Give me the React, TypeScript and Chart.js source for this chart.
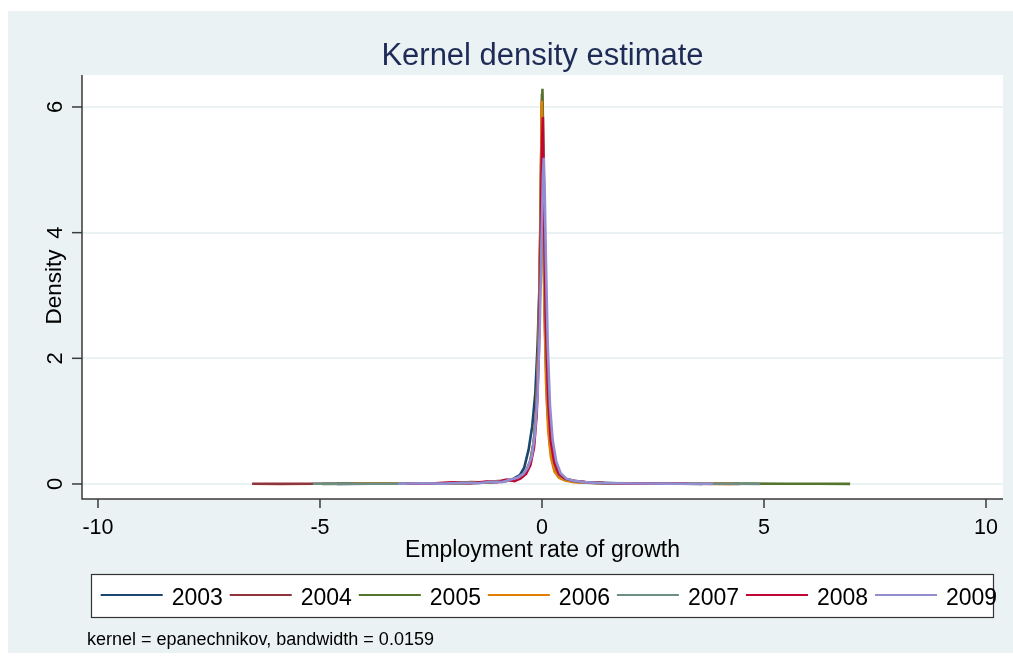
import React, { useEffect, useRef } from "react";
import { Chart, registerables } from "chart.js";

Chart.register(...registerables);

const years = ["2003", "2004", "2005", "2006", "2007", "2008", "2009"];
const colors = ["#1A476F", "#90353B", "#55752F", "#E37E00", "#6E8E84", "#C10534", "#938DD2"];

const x03 = [-4.62, -3.8, -3.1, -2.4, -1.9, -1.5, -1.2, -1.0, -0.8, -0.65, -0.5, -0.4, -0.3, -0.22, -0.15, -0.1, -0.05, -0.02, 0, 0.02, 0.05, 0.1, 0.15, 0.22, 0.3, 0.4, 0.55, 0.75, 1.0, 1.4, 1.9, 2.5, 3.1, 3.62];
const y03 = [0.002, 0.004, 0.006, 0.009, 0.012, 0.018, 0.026, 0.035, 0.055, 0.08, 0.14, 0.26, 0.55, 0.92, 1.45, 2.2, 3.3, 4.3, 4.95, 4.4, 3.2, 1.85, 1.05, 0.52, 0.26, 0.13, 0.07, 0.038, 0.022, 0.013, 0.008, 0.005, 0.003, 0.002];

const x04 = [-6.53, -5.9, -5.2, -4.4, -3.6, -2.8, -2.1, -1.6, -1.25, -1.0, -0.8, -0.62, -0.48, -0.36, -0.26, -0.18, -0.12, -0.07, -0.03, 0, 0.03, 0.07, 0.12, 0.18, 0.26, 0.36, 0.5, 0.7, 1.0, 1.4, 2.0, 2.8, 3.6, 4.45];
const y04 = [0.003, 0.002, 0.004, 0.003, 0.005, 0.008, 0.012, 0.03, 0.022, 0.045, 0.05, 0.07, 0.12, 0.2, 0.38, 0.7, 1.3, 2.5, 4.5, 6.21, 4.4, 2.4, 1.2, 0.62, 0.3, 0.14, 0.08, 0.045, 0.025, 0.014, 0.008, 0.005, 0.003, 0.002];

const x05 = [-4.95, -4.2, -3.4, -2.7, -2.1, -1.6, -1.25, -1.0, -0.8, -0.62, -0.48, -0.36, -0.26, -0.18, -0.12, -0.07, -0.03, -0.01, 0.01, 0.04, 0.08, 0.13, 0.19, 0.27, 0.37, 0.5, 0.7, 1.0, 1.4, 2.0, 2.8, 3.7, 4.6, 5.5, 6.2, 6.94];
const y05 = [0.002, 0.004, 0.006, 0.008, 0.013, 0.02, 0.028, 0.035, 0.05, 0.075, 0.11, 0.19, 0.35, 0.66, 1.25, 2.4, 4.3, 5.7, 6.29, 4.9, 2.9, 1.5, 0.75, 0.35, 0.16, 0.085, 0.045, 0.024, 0.014, 0.009, 0.005, 0.004, 0.005, 0.003, 0.003, 0.002];

const x06 = [-4.25, -3.5, -2.8, -2.2, -1.7, -1.3, -1.0, -0.8, -0.62, -0.48, -0.36, -0.26, -0.18, -0.12, -0.07, -0.03, -0.005, 0.02, 0.05, 0.09, 0.14, 0.2, 0.28, 0.38, 0.52, 0.72, 1.0, 1.4, 2.0, 2.7, 3.5, 4.3];
const y06 = [0.003, 0.005, 0.007, 0.01, 0.016, 0.025, 0.04, 0.052, 0.078, 0.12, 0.2, 0.36, 0.68, 1.28, 2.45, 4.4, 6.1, 4.8, 3.0, 1.65, 0.85, 0.43, 0.2, 0.1, 0.055, 0.03, 0.02, 0.012, 0.008, 0.005, 0.003, 0.002];

const x07 = [-5.16, -4.5, -3.8, -3.1, -2.5, -1.9, -1.45, -1.1, -0.85, -0.65, -0.5, -0.38, -0.28, -0.2, -0.13, -0.08, -0.04, -0.01, 0.01, 0.04, 0.08, 0.13, 0.2, 0.28, 0.38, 0.52, 0.72, 1.0, 1.45, 2.0, 2.7, 3.4, 4.2, 4.91];
const y07 = [0.003, 0.004, 0.003, 0.006, 0.008, 0.013, 0.022, 0.034, 0.048, 0.07, 0.1, 0.17, 0.31, 0.58, 1.1, 2.0, 3.5, 5.0, 5.5, 4.3, 2.6, 1.4, 0.68, 0.33, 0.15, 0.08, 0.045, 0.025, 0.014, 0.009, 0.006, 0.004, 0.003, 0.002];

const x08 = [-3.05, -2.5, -2.0, -1.6, -1.25, -1.0, -0.8, -0.62, -0.48, -0.36, -0.26, -0.18, -0.12, -0.07, -0.03, 0, 0.02, 0.05, 0.09, 0.14, 0.2, 0.28, 0.38, 0.52, 0.72, 1.0, 1.4, 1.9, 2.5, 3.3];
const y08 = [0.004, 0.007, 0.025, 0.012, 0.04, 0.03, 0.07, 0.045, 0.09, 0.16, 0.3, 0.58, 1.1, 2.1, 3.8, 5.4, 5.84, 4.2, 2.5, 1.35, 0.68, 0.34, 0.16, 0.085, 0.05, 0.028, 0.016, 0.01, 0.006, 0.003];

const x09 = [-3.24, -2.7, -2.2, -1.8, -1.45, -1.15, -0.9, -0.7, -0.55, -0.42, -0.32, -0.23, -0.16, -0.1, -0.05, -0.01, 0.02, 0.04, 0.06, 0.09, 0.13, 0.18, 0.24, 0.32, 0.42, 0.55, 0.72, 0.95, 1.25, 1.7, 2.2, 2.8, 3.3, 3.85];
const y09 = [0.004, 0.012, 0.006, 0.02, 0.012, 0.035, 0.03, 0.07, 0.1, 0.16, 0.26, 0.44, 0.78, 1.4, 2.5, 3.9, 4.9, 5.19, 4.7, 3.5, 2.2, 1.25, 0.7, 0.36, 0.17, 0.085, 0.05, 0.03, 0.018, 0.011, 0.007, 0.005, 0.004, 0.002];

const seriesX = [x03, x04, x05, x06, x07, x08, x09];
const seriesY = [y03, y04, y05, y06, y07, y08, y09];

const xTicks = [-10, -5, 0, 5, 10];
const yTicks = [0, 2, 4, 6];
const titleText = "Kernel density estimate";
const xTitleText = "Employment rate of growth";
const yTitleText = "Density";
const noteText = "kernel = epanechnikov, bandwidth = 0.0159";

const FONT = '"Liberation Sans", Arial, Helvetica, sans-serif';
const BG = "#EAF2F3";

const decorPlugin = {
  id: "stataDecor",
  beforeDraw(chart: any) {
    const { ctx, width, height, chartArea: a } = chart;
    ctx.save();
    ctx.fillStyle = BG;
    ctx.fillRect(0, 0, width, height);
    ctx.fillStyle = "#FFFFFF";
    ctx.fillRect(a.left, a.top, a.right - a.left, a.bottom - a.top);
    ctx.restore();
  },
  afterDraw(chart: any) {
    const { ctx, chartArea: a } = chart;
    const xs = chart.scales.x;
    const ys = chart.scales.y;
    ctx.save();
    ctx.strokeStyle = "#3a3a3a";
    ctx.lineWidth = 1.5;
    ctx.beginPath();
    ctx.moveTo(a.left, a.top);
    ctx.lineTo(a.left, a.bottom);
    ctx.lineTo(a.right, a.bottom);
    ctx.stroke();
    ctx.fillStyle = "#000";
    ctx.font = `22px ${FONT}`;
    for (const v of yTicks) {
      const py = ys.getPixelForValue(v);
      ctx.beginPath();
      ctx.moveTo(a.left - 10, py);
      ctx.lineTo(a.left, py);
      ctx.stroke();
      ctx.save();
      ctx.translate(54, py);
      ctx.rotate(-Math.PI / 2);
      ctx.textAlign = "center";
      ctx.textBaseline = "alphabetic";
      ctx.fillText(String(v), 0, 0);
      ctx.restore();
    }
    ctx.save();
    ctx.font = `22.5px ${FONT}`;
    ctx.translate(53, (a.top + a.bottom) / 2);
    ctx.rotate(-Math.PI / 2);
    ctx.textAlign = "center";
    ctx.textBaseline = "alphabetic";
    ctx.fillText(yTitleText, 0, 0);
    ctx.restore();
    ctx.font = `21.5px ${FONT}`;
    ctx.textAlign = "center";
    ctx.textBaseline = "alphabetic";
    for (const v of xTicks) {
      const px = xs.getPixelForValue(v);
      ctx.beginPath();
      ctx.moveTo(px, a.bottom);
      ctx.lineTo(px, a.bottom + 9);
      ctx.stroke();
      ctx.fillText(String(v), px, a.bottom + 35);
    }
    ctx.font = `23px ${FONT}`;
    ctx.fillText(xTitleText, (a.left + a.right) / 2, a.bottom + 58);
    ctx.fillStyle = "#1E2B57";
    ctx.font = `31px ${FONT}`;
    ctx.fillText(titleText, (a.left + a.right) / 2, 54);
    const bx = 83, by = 563, bw = 902, bh = 43;
    ctx.fillStyle = "#FFFFFF";
    ctx.fillRect(bx, by, bw, bh);
    ctx.strokeStyle = "#333";
    ctx.lineWidth = 1.2;
    ctx.strokeRect(bx + 0.5, by + 0.5, bw, bh);
    ctx.font = `23px ${FONT}`;
    ctx.textAlign = "left";
    years.forEach((yr, i) => {
      const sx = 92.7 + i * 129.05;
      ctx.strokeStyle = colors[i];
      ctx.lineWidth = 2;
      ctx.beginPath();
      ctx.moveTo(sx, 584);
      ctx.lineTo(sx + 62, 584);
      ctx.stroke();
      ctx.fillStyle = "#000";
      ctx.fillText(yr, sx + 71, 594);
    });
    ctx.font = `18px ${FONT}`;
    ctx.fillStyle = "#000";
    ctx.fillText(noteText, 79, 634);
    ctx.restore();
  },
};

export default function App() {
  const canvasRef = useRef<HTMLCanvasElement | null>(null);

  useEffect(() => {
    if (!canvasRef.current) return;
    const datasets = years.map((yr, i) => ({
      label: yr,
      data: seriesX[i].map((xv, j) => ({ x: xv, y: seriesY[i][j] })),
      borderColor: colors[i],
      backgroundColor: colors[i],
      borderWidth: 2.6,
      pointRadius: 0,
      tension: 0,
      fill: false,
      order: years.length - 1 - i,
    }));
    const chart = new Chart(canvasRef.current, {
      type: "line",
      data: { datasets },
      options: {
        animation: false,
        responsive: true,
        maintainAspectRatio: false,
        devicePixelRatio: 1,
        layout: { padding: { left: 74, top: 64, right: 10, bottom: 154 } },
        plugins: { legend: { display: false }, title: { display: false }, tooltip: { enabled: false } },
        events: [],
        scales: {
          x: {
            type: "linear",
            min: -10.36,
            max: 10.383,
            ticks: { display: false },
            grid: { display: false, drawTicks: false },
            border: { display: false },
            afterBuildTicks: (s: any) => {
              s.ticks = xTicks.map((v) => ({ value: v }));
            },
          },
          y: {
            type: "linear",
            min: -0.239,
            max: 6.509,
            ticks: { display: false },
            grid: { display: true, drawTicks: false, color: BG, lineWidth: 2 },
            border: { display: false },
            afterBuildTicks: (s: any) => {
              s.ticks = yTicks.map((v) => ({ value: v }));
            },
          },
        },
      },
      plugins: [decorPlugin],
    });
    return () => chart.destroy();
  }, []);

  return (
    <div style={{ position: "absolute", left: 8, top: 11, width: 1005, height: 642 }}>
      <canvas ref={canvasRef} />
    </div>
  );
}
